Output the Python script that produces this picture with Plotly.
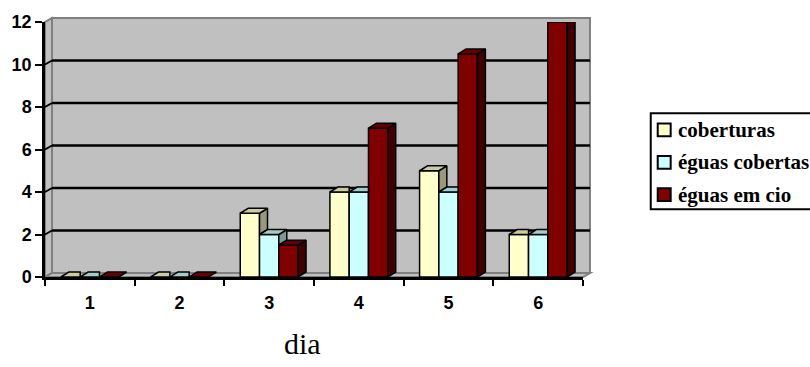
import plotly.graph_objects as go

# ---- data -------------------------------------------------------------
dias = [1, 2, 3, 4, 5, 6]
coberturas = [0, 0, 3, 4, 5, 2]
eguas_cobertas = [0, 0, 2, 4, 4, 2]
eguas_em_cio = [0, 0, 1.5, 7, 10.5, 12]
y_ticks = [0, 2, 4, 6, 8, 10, 12]
series_names = ["coberturas", "éguas cobertas", "éguas em cio"]
x_title = "dia"

# ---- styling ----------------------------------------------------------
FRONT = ["#FFFFCC", "#CCFFFF", "#800000"]
TOP = ["#CCCCA3", "#A3CCCC", "#660000"]
SIDE = ["#99997A", "#7A9999", "#400000"]
WALL = "#C0C0C0"
WALL_EDGE = "#808080"

FIG_W, FIG_H = 810, 367
M_L, M_R, M_T, M_B = 43, 227, 17, 90
PLOT_W = FIG_W - M_L - M_R
PLOT_H = FIG_H - M_T - M_B
X_RANGE = [0.5, 6.5]
Y_RANGE = [0, 12]
X_UNIT = PLOT_W / (X_RANGE[1] - X_RANGE[0])   # px per category
Y_UNIT = PLOT_H / (Y_RANGE[1] - Y_RANGE[0])   # px per unit

BAR_W = 0.215
BAR_DX = 8 / X_UNIT          # depth of the bar prisms, in axis units
BAR_DY = 5 / Y_UNIT
WALL_DX_PX, WALL_DY_PX = 7, 4
WALL_DX = WALL_DX_PX / PLOT_W  # depth of the walls, in paper units
WALL_DY = WALL_DY_PX / PLOT_H

TICK_FONT = dict(family="Liberation Sans, Arial, sans-serif", size=18,
                 color="black", weight="bold")
SERIF = "Liberation Serif, Times New Roman, serif"


def px2x(p):
    return (p - M_L) / PLOT_W


def px2y(p):
    return (FIG_H - M_B - p) / PLOT_H


values = [coberturas, eguas_cobertas, eguas_em_cio]
fig = go.Figure()

# front faces of the columns
for k, (name, vals) in enumerate(zip(series_names, values)):
    fig.add_trace(go.Bar(
        x=dias, y=vals, name=name, width=BAR_W, offset=(k - 1.5) * BAR_W,
        marker=dict(color=FRONT[k], line=dict(color="black", width=1.5)),
        showlegend=False, hoverinfo="skip",
    ))

# top and side faces giving the columns their depth
for k, vals in enumerate(values):
    nxt = values[k + 1] if k + 1 < len(values) else None
    tx, ty, sx, sy = [], [], [], []
    for i, (d, v) in enumerate(zip(dias, vals)):
        xl = d + (k - 1.5) * BAR_W
        xr = xl + BAR_W
        v2 = nxt[i] if nxt is not None else None
        if v2 is not None and v2 >= v:
            tx += [xl, xr, xr, xl + BAR_DX, xl, None]
            ty += [v, v, v + BAR_DY, v + BAR_DY, v, None]
        else:
            tx += [xl, xr, xr + BAR_DX, xl + BAR_DX, xl, None]
            ty += [v, v, v + BAR_DY, v + BAR_DY, v, None]
            base = v2 if v2 is not None else 0
            if v > base:
                sx += [xr, xr, xr + BAR_DX, xr + BAR_DX, xr, None]
                sy += [base, v, v + BAR_DY, base + BAR_DY, base, None]
    if sx:
        fig.add_trace(go.Scatter(
            x=sx, y=sy, mode="lines", fill="toself", fillcolor=SIDE[k],
            line=dict(color="black", width=1.5), showlegend=False,
            hoverinfo="skip"))
    fig.add_trace(go.Scatter(
        x=tx, y=ty, mode="lines", fill="toself", fillcolor=TOP[k],
        line=dict(color="black", width=1.5), showlegend=False,
        hoverinfo="skip"))

shapes = []
# back wall
shapes.append(dict(type="rect", xref="paper", yref="paper",
                   x0=WALL_DX, x1=1 + WALL_DX, y0=WALL_DY, y1=1 + WALL_DY,
                   fillcolor=WALL, line=dict(color=WALL_EDGE, width=2),
                   layer="below"))
# left wall
shapes.append(dict(type="path", xref="paper", yref="paper",
                   path=f"M0,0 L0,1 L{WALL_DX},{1 + WALL_DY} L{WALL_DX},{WALL_DY} Z",
                   fillcolor=WALL, line=dict(color=WALL_EDGE, width=2),
                   layer="below"))
# floor
shapes.append(dict(type="path", xref="paper", yref="paper",
                   path=f"M0,0 L1,0 L{1 + WALL_DX},{WALL_DY} L{WALL_DX},{WALL_DY} Z",
                   fillcolor=WALL, line=dict(color=WALL_EDGE, width=2),
                   layer="below"))
# gridlines on back and left walls
for v in y_ticks[1:-1]:
    shapes.append(dict(type="line", xref="paper", yref="y", ysizemode="pixel",
                       yanchor=v, x0=WALL_DX, x1=1 + WALL_DX,
                       y0=WALL_DY_PX, y1=WALL_DY_PX,
                       line=dict(color="black", width=2.5), layer="below"))
    shapes.append(dict(type="line", xref="paper", yref="y", ysizemode="pixel",
                       yanchor=v, x0=0, x1=WALL_DX, y0=0, y1=WALL_DY_PX,
                       line=dict(color="black", width=2), layer="below"))

# legend box with swatches
LEG_X0, LEG_X1, LEG_Y0, LEG_Y1 = 651, 813, 110, 208
shapes.append(dict(type="rect", xref="paper", yref="paper",
                   x0=px2x(LEG_X0), x1=px2x(LEG_X1),
                   y0=px2y(LEG_Y1), y1=px2y(LEG_Y0),
                   fillcolor="white", line=dict(color="black", width=2)))
annotations = []
for i, name in enumerate(series_names):
    cy = 127 + 33 * i
    shapes.append(dict(type="rect", xref="paper", yref="paper",
                       x0=px2x(658), x1=px2x(671),
                       y0=px2y(cy + 6.5), y1=px2y(cy - 6.5),
                       fillcolor=FRONT[i], line=dict(color="black", width=2)))
    annotations.append(dict(text=name, xref="paper", yref="paper",
                            x=px2x(676), y=px2y(cy), xanchor="left",
                            yanchor="middle", showarrow=False,
                            font=dict(family=SERIF, size=21, color="black",
                                      weight="bold")))

annotations.append(dict(text=x_title, xref="paper", yref="paper",
                        x=px2x(301), y=px2y(345), xanchor="center",
                        yanchor="middle", showarrow=False,
                        font=dict(family=SERIF, size=30, color="black")))

fig.update_layout(
    width=FIG_W, height=FIG_H,
    margin=dict(l=M_L, r=M_R, t=M_T, b=M_B, pad=0),
    paper_bgcolor="white", plot_bgcolor="rgba(0,0,0,0)",
    barmode="overlay", showlegend=False,
    shapes=shapes, annotations=annotations,
    xaxis=dict(range=X_RANGE, tickvals=dias, ticktext=[str(d) for d in dias],
               ticks="", showline=True, linecolor="black", linewidth=2.5,
               showgrid=False, zeroline=False, tickfont=TICK_FONT,
               ticklabelstandoff=8,
               minor=dict(tickvals=[d - 0.5 for d in dias] + [dias[-1] + 0.5],
                          ticks="outside", ticklen=6, tickwidth=2,
                          tickcolor="black", showgrid=False)),
    yaxis=dict(range=Y_RANGE, tickvals=y_ticks, ticks="outside", ticklen=7,
               tickwidth=2, tickcolor="black", showline=True,
               linecolor="black", linewidth=2.5, showgrid=False, zeroline=False,
               tickfont=TICK_FONT),
)

fig.write_html("out.html")
